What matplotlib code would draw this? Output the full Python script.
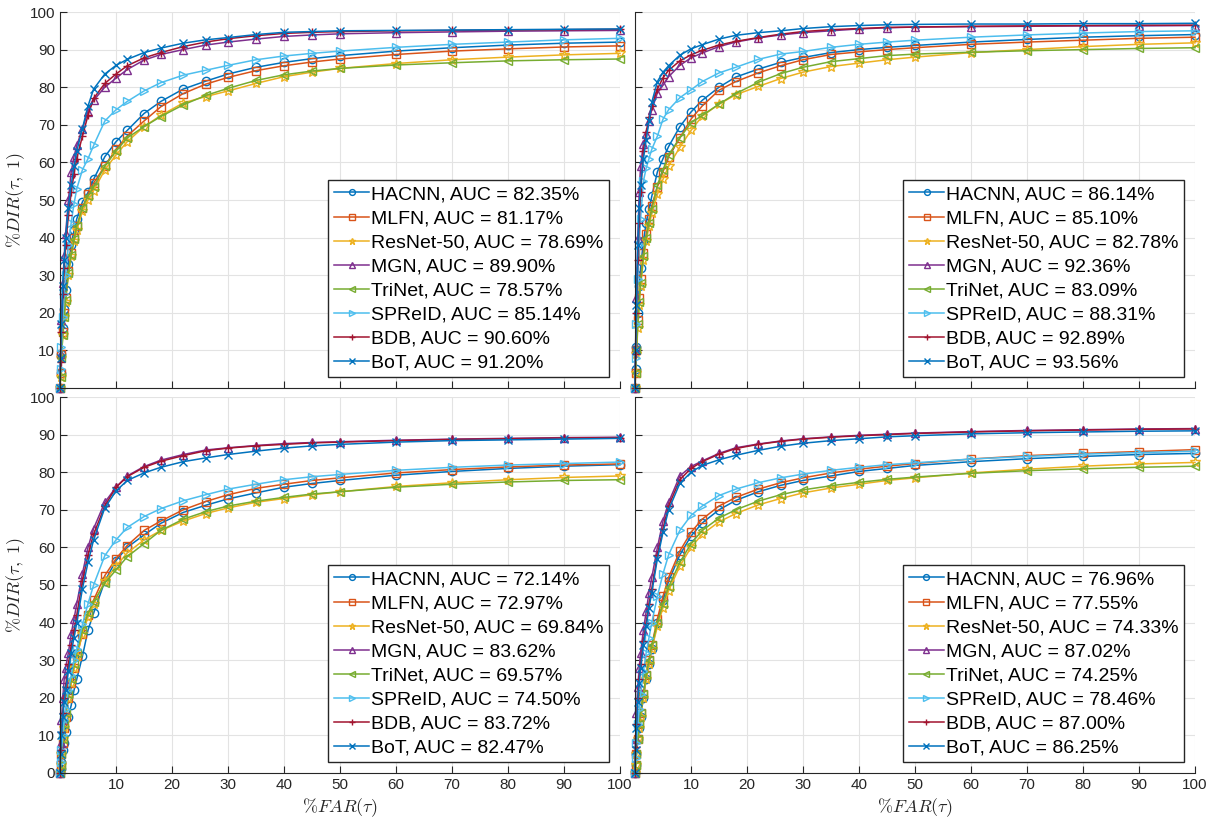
import numpy as np
import matplotlib
matplotlib.use("Agg")
import matplotlib.pyplot as plt

plt.rcParams["font.family"] = ["Liberation Sans", "DejaVu Sans"]
plt.rcParams["mathtext.fontset"] = "cm"

# FAR grid (%)
far = [0, 0.1, 0.25, 0.5, 0.75, 1, 1.5, 2, 2.5, 3, 4, 5, 6, 8, 10, 12, 15, 18, 22, 26,
       30, 35, 40, 45, 50, 60, 70, 80, 90, 100]

methods = ["HACNN", "MLFN", "ResNet-50", "MGN", "TriNet", "SPReID", "BDB", "BoT"]
colors = ["#0072BD", "#D95319", "#EDB120", "#7E2F8E", "#77AC30", "#4DBEEE", "#A2142F", "#0072BD"]
markers = ["o", "s", "*", "^", "<", ">", "+", "x"]

# top left
tl_hacnn = [0, 4, 9, 16, 21, 26, 33, 38, 42, 45, 49.5, 52, 55.5, 61.5, 65.5, 68.5, 73, 76.2, 79.5, 81.6, 83.5, 85.3, 86.6, 87.6, 88.4, 89.6, 90.5, 91.2, 91.7, 92]
tl_mlfn = [0, 4, 9, 15, 20, 24, 31, 36, 40, 43, 48, 51.5, 54.5, 59, 63.5, 67, 71, 74.8, 78.3, 80.8, 82.6, 84.4, 85.7, 86.7, 87.5, 88.7, 89.6, 90.2, 90.7, 91]
tl_resnet = [0, 3, 8, 14, 19, 23, 30, 35, 39, 42, 47, 50, 52.5, 58, 62, 65.5, 69.5, 72.5, 75.8, 77.5, 79, 81, 82.8, 84, 85, 86.3, 87.3, 88, 88.6, 89]
tl_mgn = [0, 9, 18, 28, 35, 41, 50, 57.5, 61.5, 64.5, 69, 73.5, 76.5, 80, 82.4, 84.7, 87.2, 88.7, 90, 91.2, 92, 92.8, 93.5, 93.9, 94.2, 94.5, 94.7, 94.9, 95, 95.1]
tl_trinet = [0, 3, 8, 14, 19, 23.5, 30.5, 35.5, 39.5, 43, 48, 51, 53.5, 59, 63, 66.5, 69.5, 72.2, 75.3, 77.8, 79.7, 81.8, 83.3, 84.3, 85, 85.9, 86.5, 87, 87.3, 87.5]
tl_spreid = [0, 5, 11, 19, 25, 30, 38, 44, 49, 53, 58, 61, 64.5, 71, 74, 76.2, 79, 81.2, 83.2, 84.5, 85.8, 87.3, 88.3, 89, 89.6, 90.6, 91.4, 92, 92.6, 93]
tl_bdb = [0, 7, 15, 25, 32, 38, 46, 52, 57, 61, 67, 72.5, 77, 81, 83.5, 85.7, 87.8, 89.2, 90.8, 92, 92.9, 93.7, 94.3, 94.6, 94.8, 95, 95.1, 95.2, 95.3, 95.4]
tl_bot = [0, 8, 17, 27, 34, 40, 48, 54, 59, 63, 69, 75, 79.5, 83.5, 85.8, 87.4, 89.2, 90.4, 91.7, 92.6, 93.2, 94, 94.6, 94.8, 95, 95.1, 95.2, 95.3, 95.4, 95.5]
tl_auc = ["82.35", "81.17", "78.69", "89.90", "78.57", "85.14", "90.60", "91.20"]

# top right
tr_hacnn = [0, 5, 11, 20, 27, 32, 39, 44, 47.5, 51, 57.5, 61, 64.2, 69.5, 73.4, 76.5, 80, 82.7, 84.8, 86.6, 87.9, 89.2, 90, 90.6, 91.1, 92, 92.7, 93.3, 93.7, 94]
tr_mlfn = [0, 4, 10, 18, 24, 29, 36, 41, 45, 48.5, 53.5, 57.5, 61.5, 66.5, 71.5, 75, 79.2, 81.5, 83.8, 85.7, 87.3, 88.7, 89.4, 90, 90.5, 91.4, 92, 92.5, 93, 93.3]
tr_resnet = [0, 4, 9, 16, 22, 27, 34, 39, 43, 46.5, 51.5, 55.5, 59, 64, 68.5, 72.3, 75.5, 78, 80.2, 82.3, 84, 85.5, 86.4, 87.3, 88, 89.2, 90, 90.8, 91.4, 91.8]
tr_mgn = [0, 11, 24, 40, 52, 59, 65, 67.5, 71, 74, 78.5, 80.5, 82.8, 85.8, 87.8, 89.1, 90.8, 92, 93.1, 93.9, 94.5, 95, 95.5, 95.8, 96, 96.1, 96.2, 96.3, 96.3, 96.4]
tr_trinet = [0, 4, 10, 17, 23, 28, 35, 40, 44, 47.5, 54, 58, 62, 66.5, 70.5, 72.5, 75.5, 78.3, 81.3, 83.6, 85.3, 86.8, 87.6, 88.4, 88.8, 89.3, 89.7, 90, 90.3, 90.5]
tr_spreid = [0, 8, 17, 29, 38, 45, 55, 58.5, 61, 63.5, 67, 71.5, 74, 77.2, 79.3, 81.5, 83.8, 85.3, 87.4, 88.8, 89.5, 90.6, 91.4, 92, 92.5, 93.3, 93.9, 94.4, 94.8, 95]
tr_bdb = [0, 9, 20, 34, 44, 52, 63, 68, 72, 75, 79.5, 82.5, 84.5, 87, 88.6, 89.8, 91.2, 92.2, 93.2, 94.1, 94.8, 95.3, 95.6, 95.9, 96, 96.2, 96.3, 96.4, 96.5, 96.5]
tr_bot = [0, 10, 22, 38, 48, 54, 61, 66, 71, 76, 81.5, 84, 85.7, 88.5, 90.2, 91.3, 92.8, 93.8, 94.5, 95, 95.6, 96.1, 96.4, 96.6, 96.7, 96.8, 96.8, 96.9, 96.9, 97]
tr_auc = ["86.14", "85.10", "82.78", "92.36", "83.09", "88.31", "92.89", "93.56"]

# bottom left
bl_hacnn = [0, 1, 3, 6, 8, 11, 15, 18, 22, 25, 31, 38, 42.5, 51, 56.5, 60, 63.3, 66.4, 69.3, 71.2, 72.9, 74.5, 76, 77, 77.8, 79.2, 80.2, 81, 81.6, 82]
bl_mlfn = [0, 2, 5, 8, 12, 15, 20, 24, 28, 31, 37, 42, 46, 52.5, 57, 60.5, 64.5, 67, 70, 72.2, 74, 75.7, 76.8, 77.8, 78.5, 79.8, 80.7, 81.4, 81.9, 82.2]
bl_resnet = [0, 2, 5, 9, 12, 15, 20, 24, 28, 31, 37, 41.5, 45, 51, 55, 58.5, 62, 64.5, 67, 69, 70.5, 72, 73, 74, 74.8, 76.2, 77.2, 78, 78.6, 79]
bl_mgn = [0, 8, 14, 20, 25, 28, 32, 37, 41, 45, 53, 60, 65, 72, 76, 79, 81.5, 83.2, 84.7, 85.9, 86.5, 87.1, 87.6, 87.9, 88.1, 88.5, 88.8, 89, 89.2, 89.3]
bl_trinet = [0, 2, 5, 9, 13, 16, 21, 25, 29, 32, 38, 42.5, 45.5, 50.5, 54, 57.5, 61, 64.5, 67.5, 69.5, 71, 72.3, 73.3, 74.2, 74.8, 76, 76.8, 77.4, 77.8, 78]
bl_spreid = [0, 3, 6, 10, 14, 17, 22, 26, 30, 33, 39.5, 45, 50, 57.8, 62, 65.3, 68.2, 70.3, 72.4, 74, 75.5, 76.8, 78, 78.8, 79.4, 80.5, 81.3, 81.9, 82.3, 82.7]
bl_bdb = [0, 6, 11, 16, 20, 23, 29, 34, 38, 42, 51, 58, 63.5, 71, 76, 78.8, 81.3, 82.9, 84.4, 85.7, 86.4, 87, 87.4, 87.8, 88, 88.4, 88.7, 88.9, 89.1, 89.2]
bl_bot = [0, 5, 10, 15, 19, 22, 27, 32, 36, 40, 49, 56, 62, 70.5, 75, 77.8, 79.8, 81.3, 82.8, 83.8, 84.7, 85.6, 86.4, 87, 87.4, 88, 88.4, 88.6, 88.8, 89]
bl_auc = ["72.14", "72.97", "69.84", "83.62", "69.57", "74.50", "83.72", "82.47"]

# bottom right
br_hacnn = [0, 2, 5, 9, 12, 15, 20, 25, 29, 33, 40, 46, 51, 58, 63, 66.5, 70, 72.5, 74.8, 76.5, 77.8, 79, 80.2, 81, 81.8, 82.8, 83.6, 84.2, 84.7, 85]
br_mlfn = [0, 2, 5, 9, 13, 16, 21, 26, 30, 34, 41, 47, 52, 59, 64, 67.5, 71, 73.3, 75.5, 77.2, 78.5, 79.8, 80.8, 81.6, 82.3, 83.5, 84.4, 85, 85.5, 86]
br_resnet = [0, 2, 5, 9, 12, 15, 20, 25, 29, 33, 39, 44, 48.5, 55, 60, 63.5, 66.8, 69, 71.3, 73, 74.5, 75.8, 76.8, 77.8, 78.5, 79.8, 80.8, 81.6, 82.2, 82.6]
br_mgn = [0, 9, 16, 23, 28, 32, 38, 43, 48, 52, 60, 67, 72, 79, 81.5, 83, 85, 86.5, 87.5, 88.3, 88.9, 89.4, 89.8, 90.1, 90.4, 90.8, 91.1, 91.3, 91.5, 91.6]
br_trinet = [0, 2, 5, 9, 13, 16, 21, 26, 30, 34, 40, 45, 49.5, 56, 61, 64.5, 67.8, 70, 72.3, 74, 75.3, 76.4, 77.3, 78.1, 78.7, 79.7, 80.4, 80.9, 81.3, 81.6]
br_spreid = [0, 4, 8, 13, 17, 21, 27, 32, 36, 40, 47, 53, 58, 64.5, 68.5, 71, 73.8, 75.5, 77.2, 78.5, 79.5, 80.5, 81.3, 82, 82.5, 83.5, 84.2, 84.8, 85.2, 85.6]
br_bdb = [0, 7, 13, 20, 25, 29, 35, 40, 45, 49, 58, 65, 71, 78, 81, 82.8, 84.8, 86.3, 87.4, 88.2, 88.8, 89.3, 89.7, 90, 90.3, 90.7, 91, 91.2, 91.4, 91.5]
br_bot = [0, 6, 12, 19, 24, 28, 34, 39, 44, 48, 57, 64, 70, 77, 80, 81.8, 83.3, 84.5, 85.8, 86.9, 87.7, 88.4, 88.9, 89.4, 89.7, 90.2, 90.5, 90.7, 90.9, 91]
br_auc = ["76.96", "77.55", "74.33", "87.02", "74.25", "78.46", "87.00", "86.25"]

panels = [
    ([tl_hacnn, tl_mlfn, tl_resnet, tl_mgn, tl_trinet, tl_spreid, tl_bdb, tl_bot], tl_auc),
    ([tr_hacnn, tr_mlfn, tr_resnet, tr_mgn, tr_trinet, tr_spreid, tr_bdb, tr_bot], tr_auc),
    ([bl_hacnn, bl_mlfn, bl_resnet, bl_mgn, bl_trinet, bl_spreid, bl_bdb, bl_bot], bl_auc),
    ([br_hacnn, br_mlfn, br_resnet, br_mgn, br_trinet, br_spreid, br_bdb, br_bot], br_auc),
]

W, H = 1217, 818
fig = plt.figure(figsize=(W / 100, H / 100), dpi=100)
# axes boxes in pixels: left, top, right, bottom
boxes = [(60, 12, 620, 388), (635, 12, 1195, 388), (60, 397, 620, 773), (635, 397, 1195, 773)]

for i, ((series, aucs), (l, t, r, b)) in enumerate(zip(panels, boxes)):
    ax = fig.add_axes([l / W, 1 - b / H, (r - l) / W, (b - t) / H])
    ax.set_xlim(0, 100)
    ax.set_ylim(0, 100)
    for j, y in enumerate(series):
        ax.plot(far, y, color=colors[j], marker=markers[j], markersize=6 if markers[j] != "*" else 7,
                markerfacecolor="none", markeredgewidth=1.0, linewidth=1.1, clip_on=False,
                label="%s, AUC = %s%%" % (methods[j], aucs[j]))
    ax.set_xticks(np.arange(0, 101, 10))
    ax.set_yticks(np.arange(0, 101, 10))
    ax.grid(True, color="#e3e3e3", linewidth=0.8)
    ax.set_axisbelow(True)
    ax.tick_params(direction="in", length=5, color="#262626", labelcolor="#262626", labelsize=11)
    for s in ["top", "right"]:
        ax.spines[s].set_visible(False)
    for s in ["left", "bottom"]:
        ax.spines[s].set_color("#262626")
    if i < 2:
        ax.set_xticklabels([])
        ax.set_yticklabels([""] + [str(v) for v in range(10, 101, 10)])
    else:
        ax.set_xticklabels([""] + [str(v) for v in range(10, 101, 10)])
        ax.set_xlabel(r"$\%FAR(\tau)$", fontsize=13, color="#262626", labelpad=3)
    if i % 2 == 1:
        ax.set_yticklabels([])
    else:
        ax.set_ylabel(r"$\%DIR(\tau,\ 1)$", fontsize=13, color="#262626", labelpad=2)
    leg = ax.legend(loc="lower right", fontsize=14, frameon=True, fancybox=False,
                    borderpad=0.3, labelspacing=0.33, handlelength=1.8, handletextpad=0.1,
                    borderaxespad=0.55, markerscale=0.7)
    leg.get_frame().set_edgecolor("#262626")
    leg.get_frame().set_linewidth(1.0)
    leg.get_frame().set_alpha(1)
    leg.set_zorder(10)

plt.savefig("out.png", dpi=100)
